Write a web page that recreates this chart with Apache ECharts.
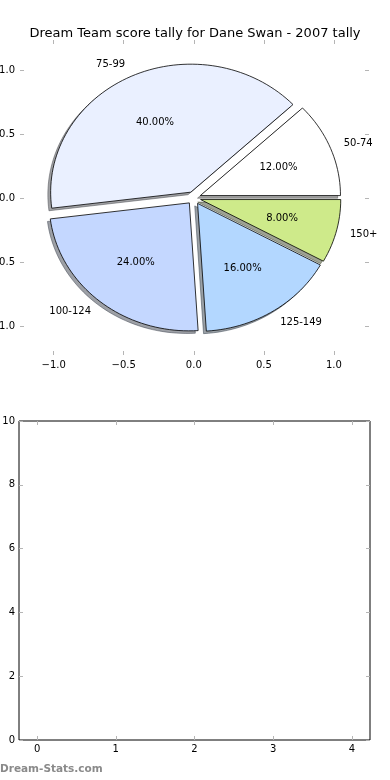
<!DOCTYPE html>
<html>
<head>
<meta charset="utf-8">
<script src="https://cdn.jsdelivr.net/npm/echarts@6/dist/echarts.min.js"></script>
<style>html,body{margin:0;padding:0;background:#fff}#c{width:390px;height:780px}</style>
</head>
<body>
<div id="c"></div>
<script>
const categories = ['50-74', '75-99', '100-124', '125-149', '150+'];
const counts = [3, 10, 6, 4, 2];
const sliceColors = ['#ffffff', '#eaf0ff', '#c4d7ff', '#b3d7ff', '#ceea8a'];
const explode = [0.05, 0.05, 0.05, 0.05, 0.05];
const pieTicks = [-1, -0.5, 0, 0.5, 1];
const lowerXTicks = [0, 1, 2, 3, 4];
const lowerYTicks = [0, 2, 4, 6, 8, 10];

const FONT = 'DejaVu Sans';
const total = counts.reduce((a, b) => a + b, 0);
const cum = [0];
counts.forEach(v => cum.push(cum[cum.length - 1] + v));

function minusFmt(v) { return Number(v).toFixed(1).replace('-', '\u2212'); }

function wedgePoints(api, i, ox, oy) {
  const t1 = cum[i] / total * 2 * Math.PI;
  const t2 = cum[i + 1] / total * 2 * Math.PI;
  const tm = (t1 + t2) / 2;
  const cx = explode[i] * Math.cos(tm) + ox;
  const cy = explode[i] * Math.sin(tm) + oy;
  const pts = [api.coord([cx, cy])];
  const n = Math.max(8, Math.ceil((t2 - t1) / (Math.PI / 90)));
  for (let k = 0; k <= n; k++) {
    const t = t1 + (t2 - t1) * k / n;
    pts.push(api.coord([cx + Math.cos(t), cy + Math.sin(t)]));
  }
  return { pts, tm, cx: cx - ox, cy: cy - oy };
}

const chart = echarts.init(document.getElementById('c'), null, { renderer: 'canvas' });

const tickStyle = { show: true, inside: true, length: 4, lineStyle: { color: '#b5b5b5', width: 1 } };
const labelStyle = { color: '#000', fontSize: 10, fontFamily: FONT };
const noLine = { show: false, onZero: false };

chart.setOption({
  animation: false,
  backgroundColor: '#fff',
  title: {
    text: 'Dream Team score tally for Dane Swan - 2007 tally',
    left: 'center', top: 22,
    textStyle: { fontSize: 13, fontWeight: 'normal', fontFamily: FONT, color: '#000' }
  },
  graphic: [{
    type: 'text', left: 0, top: 764,
    style: { text: 'Dream-Stats.com', fontSize: 10.5, fontWeight: 'bold', fontFamily: FONT, fill: '#8a8a8a' }
  }],
  grid: [
    { left: 20, top: 40, width: 349, height: 315, show: false, containLabel: false, outerBoundsMode: 'none' },
    { left: 19, top: 421, width: 351, height: 319, show: true, borderColor: '#000', borderWidth: 1,
      backgroundColor: 'transparent', containLabel: false, outerBoundsMode: 'none' }
  ],
  xAxis: [
    { gridIndex: 0, type: 'value', min: -1.24, max: 1.25, position: 'bottom',
      axisLine: noLine, splitLine: { show: false },
      axisTick: Object.assign({ customValues: pieTicks }, tickStyle),
      axisLabel: Object.assign({ customValues: pieTicks, margin: 5, formatter: v => minusFmt(v) }, labelStyle) },
    { gridIndex: 0, type: 'value', min: -1.24, max: 1.25, position: 'top',
      axisLine: noLine, splitLine: { show: false },
      axisTick: Object.assign({ customValues: pieTicks }, tickStyle), axisLabel: { show: false } },
    { gridIndex: 1, type: 'value', min: -0.23, max: 4.23, position: 'bottom',
      axisLine: noLine, splitLine: { show: false },
      axisTick: Object.assign({ customValues: lowerXTicks }, tickStyle),
      axisLabel: Object.assign({ customValues: lowerXTicks, margin: 4 }, labelStyle) },
    { gridIndex: 1, type: 'value', min: -0.23, max: 4.23, position: 'top',
      axisLine: noLine, splitLine: { show: false },
      axisTick: Object.assign({ customValues: lowerXTicks }, tickStyle), axisLabel: { show: false } }
  ],
  yAxis: [
    { gridIndex: 0, type: 'value', min: -1.227, max: 1.234, position: 'left',
      axisLine: noLine, splitLine: { show: false },
      axisTick: Object.assign({ customValues: pieTicks }, tickStyle),
      axisLabel: Object.assign({ customValues: pieTicks, margin: 5, formatter: v => minusFmt(v) }, labelStyle) },
    { gridIndex: 0, type: 'value', min: -1.227, max: 1.234, position: 'right',
      axisLine: noLine, splitLine: { show: false },
      axisTick: Object.assign({ customValues: pieTicks }, tickStyle), axisLabel: { show: false } },
    { gridIndex: 1, type: 'value', min: 0, max: 10, position: 'left',
      axisLine: noLine, splitLine: { show: false },
      axisTick: Object.assign({ customValues: lowerYTicks }, tickStyle),
      axisLabel: Object.assign({ customValues: lowerYTicks, margin: 4 }, labelStyle) },
    { gridIndex: 1, type: 'value', min: 0, max: 10, position: 'right',
      axisLine: noLine, splitLine: { show: false },
      axisTick: Object.assign({ customValues: lowerYTicks }, tickStyle), axisLabel: { show: false } }
  ],
  series: [
    {
      type: 'custom', name: 'shadow', xAxisIndex: 0, yAxisIndex: 0, clip: false, z: 1,
      data: counts.map((v, i) => [i, v]),
      renderItem: function (params, api) {
        const i = params.dataIndex;
        const w = wedgePoints(api, i, -0.02, -0.02);
        const c = echarts.color.parse(sliceColors[i]);
        const col = 'rgb(' + Math.round(c[0] * 0.3) + ',' + Math.round(c[1] * 0.3) + ',' + Math.round(c[2] * 0.3) + ')';
        return { type: 'polygon', shape: { points: w.pts },
          style: { fill: col, stroke: col, lineWidth: 1, opacity: 0.5 } };
      }
    },
    {
      type: 'custom', name: 'wedges', xAxisIndex: 0, yAxisIndex: 0, clip: false, z: 2,
      data: counts.map((v, i) => [i, v]),
      renderItem: function (params, api) {
        const i = params.dataIndex;
        const w = wedgePoints(api, i, 0, 0);
        const dx = Math.cos(w.tm), dy = Math.sin(w.tm);
        const lp = api.coord([w.cx + 1.1 * dx, w.cy + 1.1 * dy]);
        const pp = api.coord([w.cx + 0.6 * dx, w.cy + 0.6 * dy]);
        const pct = (counts[i] / total * 100).toFixed(2) + '%';
        return { type: 'group', children: [
          { type: 'polygon', shape: { points: w.pts },
            style: { fill: sliceColors[i], stroke: '#000', lineWidth: 0.8 } },
          { type: 'text', x: lp[0], y: lp[1],
            style: { text: categories[i], fontSize: 10, fontFamily: FONT, fill: '#000',
              align: (w.cx + 1.1 * dx) > 0 ? 'left' : 'right', verticalAlign: 'middle' } },
          { type: 'text', x: pp[0], y: pp[1],
            style: { text: pct, fontSize: 10, fontFamily: FONT, fill: '#000',
              align: 'center', verticalAlign: 'middle' } }
        ] };
      }
    }
  ]
});
</script>
</body>
</html>
